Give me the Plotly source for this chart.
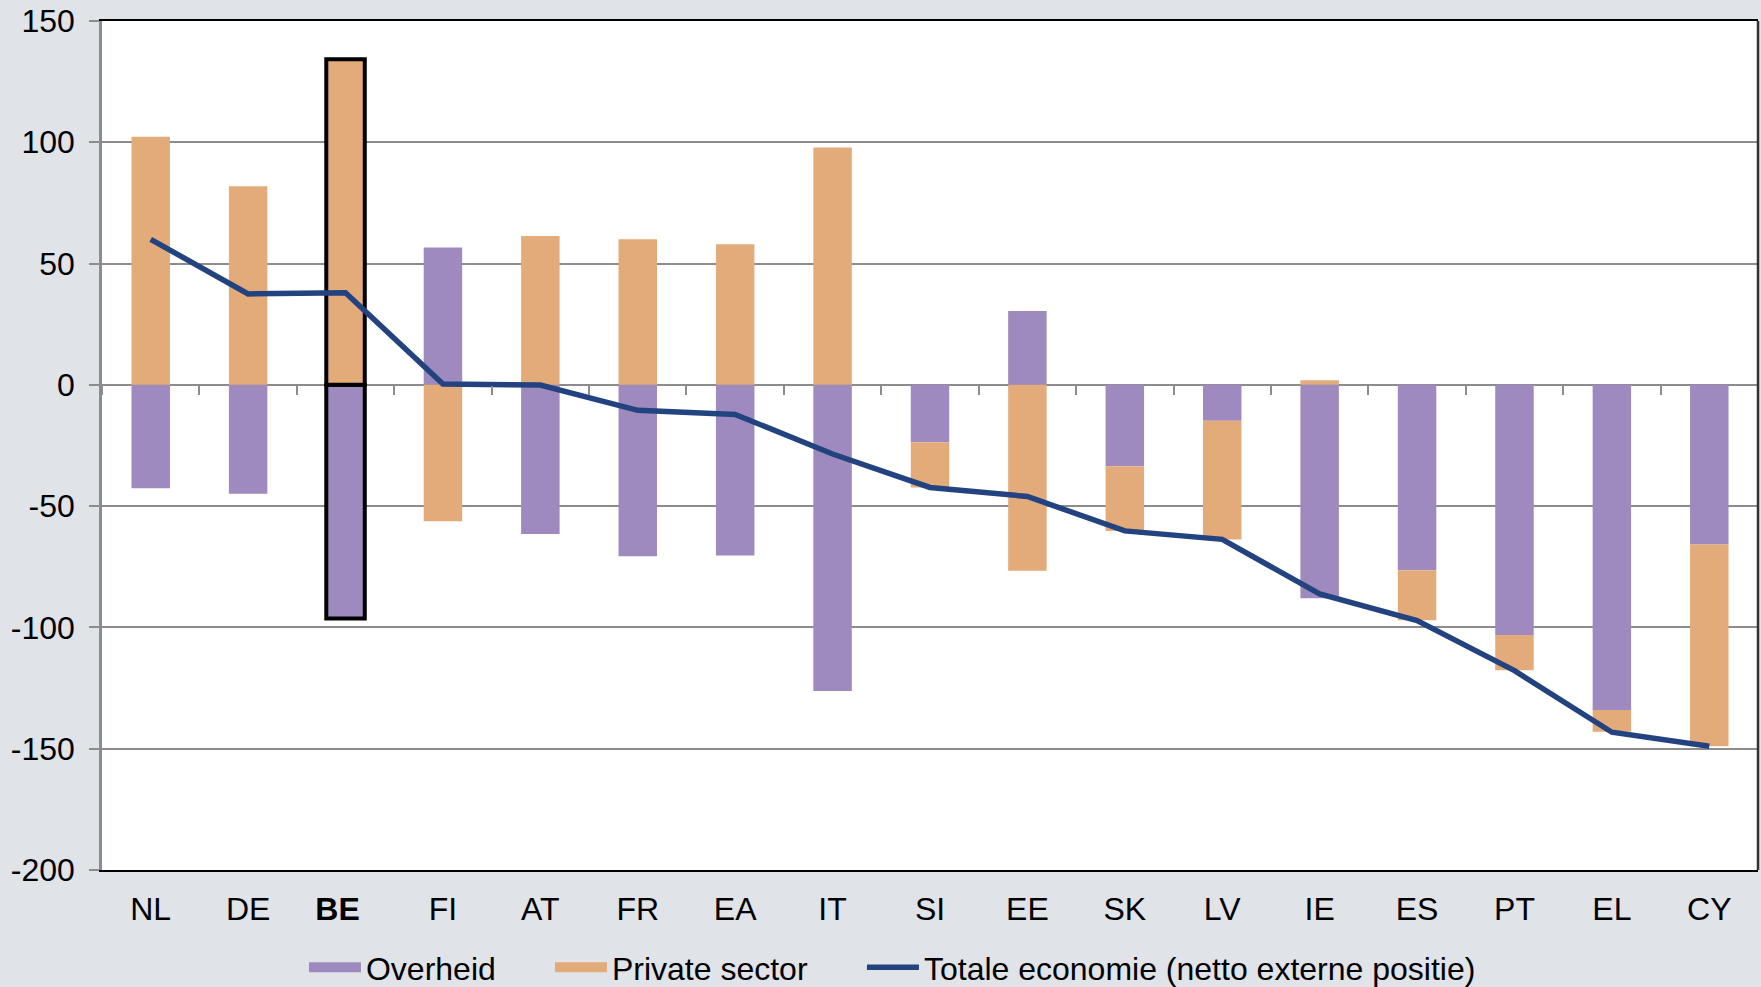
import plotly.graph_objects as go

countries = ["NL", "DE", "BE", "FI", "AT", "FR", "EA", "IT", "SI", "EE",
             "SK", "LV", "IE", "ES", "PT", "EL", "CY"]
overheid = [-42.6, -44.9, -96.3, 56.6, -61.5, -70.7, -70.3, -126.2, -23.7, 30.4,
            -33.6, -14.8, -88.0, -76.4, -103.1, -134.0, -65.8]
private_sector = [102.3, 81.9, 134.2, -56.2, 61.4, 60.0, 58.0, 97.9, -18.6, -76.6,
                  -26.6, -48.9, 1.9, -20.6, -14.6, -9.0, -83.2]
totale = [60.0, 37.5, 38.0, 0.4, -0.1, -10.5, -12.2, -28.5, -42.3, -46.0,
          -60.2, -63.7, -86.2, -97.2, -117.8, -143.2, -149.0]
highlight = "BE"
y_ticks = [150, 100, 50, 0, -50, -100, -150, -200]
y_ticktext = [str(v) for v in y_ticks]

PURPLE = "#9E8ABE"
ORANGE = "#E3AB7A"
NAVY = "#22437F"
GRID = "#8C8C8C"
FONT = "Liberation Sans, Arial, sans-serif"
FS = 32

line_colors = ["black" if c == highlight else "rgba(0,0,0,0)" for c in countries]
line_widths = [4 if c == highlight else 0 for c in countries]
ticktext = [f"<b>{c}</b>\u2002" if c == highlight else c for c in countries]

fig = go.Figure()
fig.add_trace(go.Bar(x=countries, y=overheid, name="Overheid", marker_color=PURPLE,
                     marker_line_color=line_colors, marker_line_width=line_widths,
                     showlegend=False, legendgroup="o", hoverinfo="skip"))
fig.add_trace(go.Bar(x=countries, y=private_sector, name="Private sector", marker_color=ORANGE,
                     marker_line_color=line_colors, marker_line_width=line_widths,
                     showlegend=False, legendgroup="p", hoverinfo="skip"))
# legend entries (wide swatches)
fig.add_trace(go.Scatter(x=[None], y=[None], mode="lines", name="Overheid",
                         line=dict(color=PURPLE, width=16), legendgroup="o",
                         legendwidth=179))
fig.add_trace(go.Scatter(x=[None], y=[None], mode="lines", name="Private sector",
                         line=dict(color=ORANGE, width=16), legendgroup="p",
                         legendwidth=245))
fig.add_trace(go.Scatter(x=countries, y=totale, mode="lines",
                         name="Totale economie (netto externe positie)",
                         line=dict(color=NAVY, width=5.5), hoverinfo="skip"))
# helper trace to carry the tick axis at zero
fig.add_trace(go.Scatter(x=[], y=[], xaxis="x2", showlegend=False, hoverinfo="skip"))

n = len(countries)
ymin, ymax = min(y_ticks), max(y_ticks)

fig.update_layout(
    width=1761, height=995,
    margin=dict(l=102, r=3, t=21, b=125),
    paper_bgcolor="#E0E3E8",
    plot_bgcolor="white",
    barmode="relative",
    bargap=0.605,
    font=dict(family=FONT, size=FS, color="black"),
    showlegend=True,
    legend=dict(orientation="h", xref="container", yref="container",
                x=0.1726, xanchor="left", y=0.0, yanchor="bottom",
                itemwidth=52, font=dict(size=FS), bgcolor="rgba(0,0,0,0)",
                traceorder="normal"),
    xaxis=dict(type="category", tickvals=countries, ticktext=ticktext,
               range=[-0.5, n - 0.5],
               showgrid=False, zeroline=False, showline=True, linecolor="black",
               linewidth=2, mirror=True, ticks="", ticklabelstandoff=10,
               tickfont=dict(size=FS)),
    xaxis2=dict(overlaying="x", anchor="free",
                position=(0 - ymin) / (ymax - ymin),
                range=[-0.5, n - 0.5],
                tickvals=[i - 0.5 for i in range(n + 1)],
                showticklabels=False, ticks="outside", ticklen=9,
                tickwidth=2, tickcolor=GRID, showgrid=False, zeroline=False,
                showline=False),
    yaxis=dict(range=[ymin, ymax], tickvals=y_ticks, ticktext=y_ticktext,
               showgrid=True, gridcolor=GRID, gridwidth=2, zeroline=True,
               zerolinecolor=GRID, zerolinewidth=2, showline=True, linecolor=GRID,
               linewidth=2.5, ticks="outside", ticklen=10, tickwidth=2,
               tickcolor=GRID, ticklabelstandoff=8, tickfont=dict(size=FS)),
    shapes=[dict(type="line", xref="paper", yref="paper", x0=1, x1=1, y0=0, y1=1,
                 line=dict(color="#333333", width=2.5), layer="above")],
)

fig.write_html(
    "out.html",
    config={"displayModeBar": False},
    post_script="document.body.style.margin='0';document.body.style.overflow='hidden';"
                "document.body.style.background='#E0E3E8';",
)
